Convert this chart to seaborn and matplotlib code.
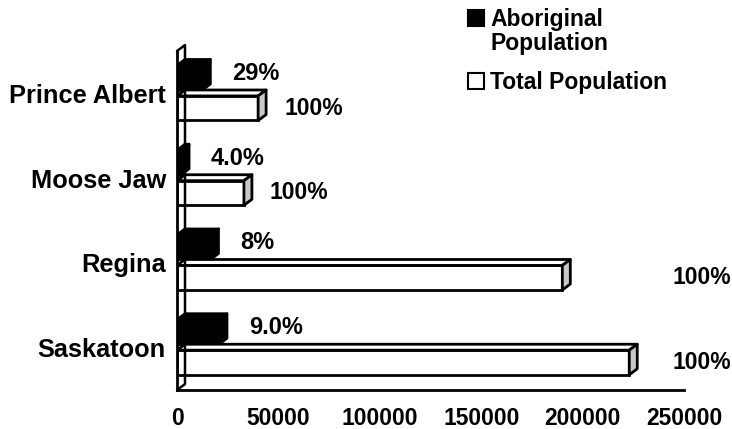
import matplotlib
matplotlib.use("Agg")
import matplotlib.pyplot as plt
import seaborn as sns
import pandas as pd
from matplotlib.patches import Polygon, Patch
from matplotlib.lines import Line2D

# ---------------- data ----------------
cities = ["Prince Albert", "Moose Jaw", "Regina", "Saskatoon"]
aboriginal = [12500, 2000, 16500, 20700]
total = [40000, 33000, 190000, 223000]
aboriginal_pct = ["29%", "4.0%", "8%", "9.0%"]
total_pct = ["100%", "100%", "100%", "100%"]
series = ["Aboriginal Population", "Total Population"]
legend_labels = ["Aboriginal", "Total Population"]
legend_second_line = "Population"
xticks = [0, 50000, 100000, 150000, 200000, 250000]
xmax = 250000

# ---------------- style ----------------
sns.set_theme(style="white")
plt.rcParams["font.family"] = ["Liberation Sans", "DejaVu Sans"]
plt.rcParams["font.weight"] = "bold"
plt.rcParams["text.color"] = "black"
plt.rcParams["axes.labelcolor"] = "black"
plt.rcParams["xtick.color"] = "black"
plt.rcParams["ytick.color"] = "black"

df = pd.DataFrame({
    "city": cities * 2,
    "series": [series[0]] * len(cities) + [series[1]] * len(cities),
    "value": aboriginal + total,
})

W, H = 732, 429
fig = plt.figure(figsize=(W / 100, H / 100), dpi=100)
ax = fig.add_axes([177 / W, 1 - 390 / H, 507 / W, (390 - 51) / H])

sns.barplot(data=df, y="city", x="value", hue="series", order=cities,
            hue_order=series, palette=["black", "white"], saturation=1,
            width=0.72, dodge=True, ax=ax, legend=False,
            edgecolor="black", linewidth=2.0, orient="h")

ax.set_xlim(0, xmax)
ax.set_ylim(len(cities) - 0.5, -0.5)

# ---------------- 3D extrusion derived from the bar patches ----------------
DX = xmax * 8 / 507      # depth in data units (~8 px)
DY = 0.07                # depth in category units (~6 px)
SHIFT = 0.04
bars = list(ax.patches)
n = len(cities)
black_bars = bars[:n]
white_bars = bars[n:]
for k, p in enumerate(bars):
    x0, w = p.get_x(), p.get_width()
    y0, h = p.get_y() - SHIFT, p.get_height()
    p.set_y(y0 + DY)
    p.set_height(h - DY)
    is_black = k < n
    top_fc = "black" if is_black else "white"
    side_fc = "black" if is_black else "#c8c8c8"
    top = Polygon([(x0, y0 + DY), (x0 + w, y0 + DY), (x0 + w + DX, y0), (x0 + DX, y0)],
                  closed=True, facecolor=top_fc, edgecolor="black", linewidth=2.0,
                  zorder=p.get_zorder(), joinstyle="round")
    side = Polygon([(x0 + w, y0 + DY), (x0 + w + DX, y0), (x0 + w + DX, y0 + h - DY), (x0 + w, y0 + h)],
                   closed=True, facecolor=side_fc, edgecolor="black", linewidth=2.0,
                   zorder=p.get_zorder(), joinstyle="round")
    ax.add_patch(top)
    ax.add_patch(side)

# back wall of the y axis
ylo, yhi = len(cities) - 0.5, -0.5
ax.add_line(Line2D([0, DX, DX, 0], [yhi, yhi - DY, ylo - DY, ylo], color="black",
                   linewidth=1.8, clip_on=False, zorder=1))

# ---------------- axes styling ----------------
for s in ["top", "right"]:
    ax.spines[s].set_visible(False)
for s in ["left", "bottom"]:
    ax.spines[s].set_color("black")
    ax.spines[s].set_linewidth(2.0)
ax.set_xlabel("")
ax.set_ylabel("")
ax.set_xticks(xticks)
ax.set_xticklabels([f"{t:d}" for t in xticks], fontsize=16.5, fontweight="bold", color="black")
ax.tick_params(axis="x", direction="out", length=6, width=2.0, pad=6, colors="black")
ax.set_yticks(range(n))
ax.set_yticklabels(cities, fontsize=18.3, fontweight="bold", color="black")
ax.tick_params(axis="y", which="major", length=0, pad=8, colors="black")
ax.set_yticks([i - 0.5 for i in range(n + 1)], minor=True)
ax.tick_params(axis="y", which="minor", direction="out", length=5, width=2.0, color="black")
ax.grid(False)

# ---------------- value labels ----------------
for i in range(n):
    bb = black_bars[i]
    yb = bb.get_y() + bb.get_height() / 2 - 0.05
    ax.annotate(aboriginal_pct[i], xy=(aboriginal[i] + DX, yb), xytext=(22, 0),
                textcoords="offset pixels", ha="left", va="center",
                fontsize=17, fontweight="bold", color="black", annotation_clip=False)
    wb = white_bars[i]
    yw = wb.get_y() + wb.get_height() / 2
    if total[i] > 0.5 * xmax:
        ax.text(0.978, yw, total_pct[i], transform=ax.get_yaxis_transform(),
                ha="left", va="center", fontsize=16.5, fontweight="bold",
                color="black", clip_on=False)
    else:
        ax.annotate(total_pct[i], xy=(total[i] + DX, yw), xytext=(18, 0),
                    textcoords="offset pixels", ha="left", va="center",
                    fontsize=16.5, fontweight="bold", color="black", annotation_clip=False)

# ---------------- legend ----------------
handles = [Patch(facecolor="black", edgecolor="black", linewidth=1.5),
           Patch(facecolor="white", edgecolor="black", linewidth=1.5)]
leg = fig.legend(handles, legend_labels, loc="upper left",
                 bbox_to_anchor=(468 / W, 1 - 8 / H), frameon=False,
                 prop={"family": ["Liberation Sans"], "weight": "bold", "size": 16.5},
                 handlelength=0.7, handleheight=0.7, handletextpad=0.28,
                 labelspacing=1.75, borderpad=0, borderaxespad=0, labelcolor="black")
fig.canvas.draw()
t0 = leg.texts[0]
ax.annotate(legend_second_line, xy=(0, 0), xycoords=t0, xytext=(0, -1),
            textcoords="offset pixels", ha="left", va="top",
            fontsize=16.5, fontweight="bold", color="black", annotation_clip=False)

fig.savefig("out.png", dpi=100, facecolor="white")
